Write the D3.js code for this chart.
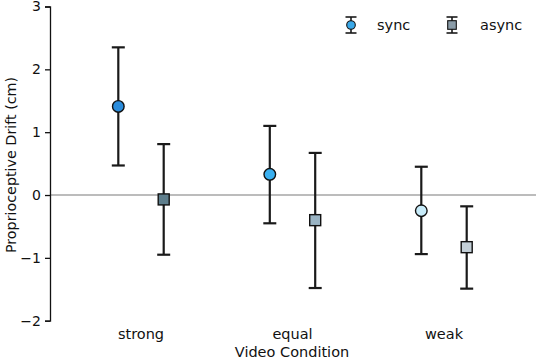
<!DOCTYPE html>
<html>
<head>
<meta charset="utf-8">
<script src="https://cdn.jsdelivr.net/npm/d3@7"></script>
<style>
  html, body { margin: 0; padding: 0; background: #fff; }
  svg { display: block; }
  text { font-family: "DejaVu Sans", sans-serif; fill: #111; }
</style>
</head>
<body>
<svg id="chart" width="536" height="361"></svg>
<script>
// ---- data ----
const categories = ["strong", "equal", "weak"];
const seriesNames = ["sync", "async"];
const syncMean  = [1.41, 0.33, -0.25];
const syncHigh  = [2.35, 1.10, 0.45];
const syncLow   = [0.47, -0.45, -0.94];
const asyncMean = [-0.07, -0.40, -0.83];
const asyncHigh = [0.81, 0.67, -0.18];
const asyncLow  = [-0.95, -1.48, -1.49];
const yTicks = [3, 2, 1, 0, -1, -2];
const syncColors  = ["#2a8cdc", "#3ab0f0", "#c8ecfa"];
const asyncColors = ["#5e7e8c", "#9ab4c4", "#c4d0d8"];
const legendColors = ["#3aa8e8", "#8a9ca8"];

const svg = d3.select("#chart");
const W = 536, H = 361;
const plotLeft = 50, plotTop = 6.5, plotBottom = 320.7;

const y = d3.scaleLinear().domain([-2, 3]).range([plotBottom, plotTop]);
const x = d3.scalePoint().domain(categories).range([141, 444]);
const offset = 22.7;

// zero line
svg.append("line")
  .attr("x1", plotLeft).attr("x2", W)
  .attr("y1", y(0)).attr("y2", y(0))
  .attr("stroke", "#7a7a7a").attr("stroke-width", 1.2);

// y axis
const yAxis = d3.axisLeft(y).tickValues(yTicks).tickSize(5).tickPadding(4)
  .tickFormat(d => d < 0 ? "\u2212" + Math.abs(d) : String(d));
const gy = svg.append("g").attr("transform", `translate(${plotLeft},0)`).call(yAxis);
gy.select(".domain").attr("stroke", "#111").attr("stroke-width", 1.3);
gy.selectAll(".tick line").attr("stroke", "#111").attr("stroke-width", 1.3);
gy.selectAll(".tick text").style("font-size", "14px").attr("fill", "#111")
  .style("font-family", '"DejaVu Sans", sans-serif');

// y label
svg.append("text")
  .attr("transform", `translate(15.5,165) rotate(-90)`)
  .attr("text-anchor", "middle")
  .style("font-size", "14.3px")
  .text("Proprioceptive Drift (cm)");

// x category labels
svg.selectAll(".xlab").data(categories).enter().append("text")
  .attr("class", "xlab")
  .attr("x", d => x(d)).attr("y", 339)
  .attr("text-anchor", "middle")
  .style("font-size", "14.5px")
  .text(d => d);

svg.append("text")
  .attr("x", 292).attr("y", 357)
  .attr("text-anchor", "middle")
  .style("font-size", "14.5px")
  .text("Video Condition");

const capW = 6.5;
function drawSeries(mean, hi, lo, colors, dx, shape) {
  const g = svg.append("g");
  categories.forEach((c, i) => {
    const cx = x(c) + dx;
    g.append("line").attr("x1", cx).attr("x2", cx)
      .attr("y1", y(hi[i])).attr("y2", y(lo[i]))
      .attr("stroke", "#1a1a1a").attr("stroke-width", 2.2);
    [hi[i], lo[i]].forEach(v => {
      g.append("line").attr("x1", cx - capW).attr("x2", cx + capW)
        .attr("y1", y(v)).attr("y2", y(v))
        .attr("stroke", "#1a1a1a").attr("stroke-width", 2.2);
    });
    if (shape === "circle") {
      g.append("circle").attr("cx", cx).attr("cy", y(mean[i])).attr("r", 5.8)
        .attr("fill", colors[i]).attr("stroke", "#111").attr("stroke-width", 1.4);
    } else {
      const s = 11;
      g.append("rect").attr("x", cx - s / 2).attr("y", y(mean[i]) - s / 2)
        .attr("width", s).attr("height", s)
        .attr("fill", colors[i]).attr("stroke", "#111").attr("stroke-width", 1.4);
    }
  });
}
drawSeries(syncMean, syncHigh, syncLow, syncColors, -offset, "circle");
drawSeries(asyncMean, asyncHigh, asyncLow, asyncColors, offset, "square");

// legend
const legendX = [351, 452];
const legendTextX = [377, 480];
const ly = 25;
seriesNames.forEach((name, i) => {
  const g = svg.append("g");
  const cx = legendX[i];
  g.append("line").attr("x1", cx).attr("x2", cx).attr("y1", ly - 8).attr("y2", ly + 8)
    .attr("stroke", "#1a1a1a").attr("stroke-width", 1.6);
  [ly - 8, ly + 8].forEach(v => g.append("line")
    .attr("x1", cx - 5.5).attr("x2", cx + 5.5).attr("y1", v).attr("y2", v)
    .attr("stroke", "#1a1a1a").attr("stroke-width", 1.6));
  if (i === 0) {
    g.append("circle").attr("cx", cx).attr("cy", ly).attr("r", 4.3)
      .attr("fill", legendColors[i]).attr("stroke", "#111").attr("stroke-width", 1.1);
  } else {
    g.append("rect").attr("x", cx - 4.3).attr("y", ly - 4.3).attr("width", 8.6).attr("height", 8.6)
      .attr("fill", legendColors[i]).attr("stroke", "#111").attr("stroke-width", 1.1);
  }
  g.append("text").attr("x", legendTextX[i]).attr("y", ly + 5)
    .style("font-size", "14.5px").text(name);
});
</script>
</body>
</html>
